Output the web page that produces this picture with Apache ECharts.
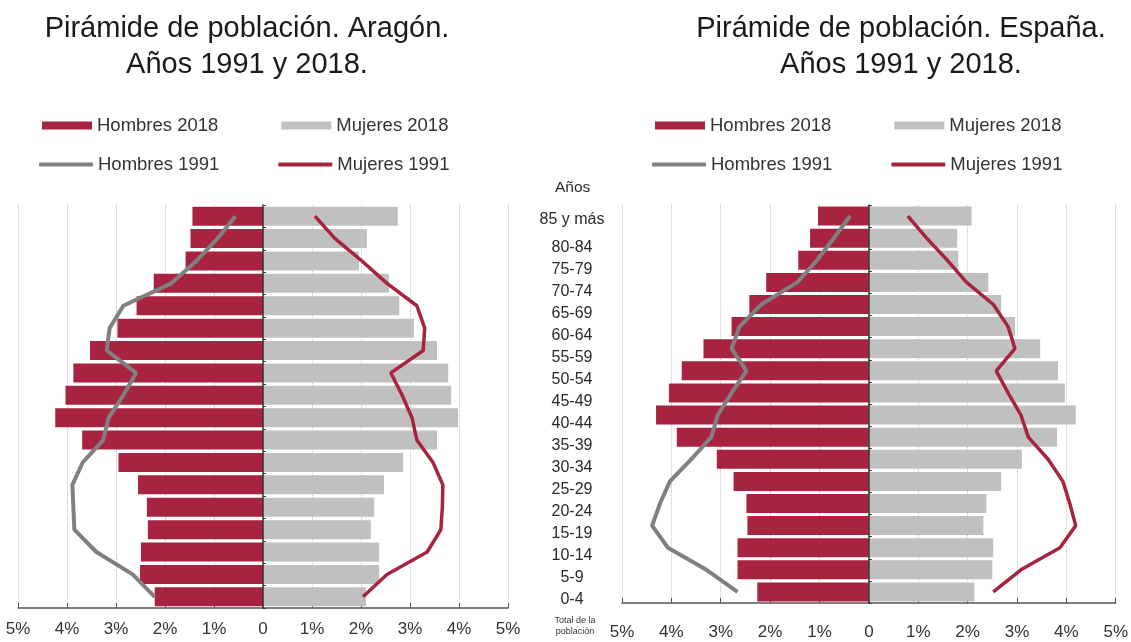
<!DOCTYPE html>
<html>
<head>
<meta charset="utf-8">
<script src="https://cdn.jsdelivr.net/npm/echarts@6/dist/echarts.min.js"></script>
<style>
  html, body { margin: 0; padding: 0; background: #fff; }
  #chart { width: 1131px; height: 642px; }
</style>
</head>
<body>
<div id="chart"></div>
<script>
// age groups, top to bottom
const ageGroups = ['85 y más', '80-84', '75-79', '70-74', '65-69', '60-64', '55-59', '50-54', '45-49',
  '40-44', '35-39', '30-34', '25-29', '20-24', '15-19', '10-14', '5-9', '0-4']

// % of total population
const aragonHombres2018 = [1.44, 1.48, 1.58, 2.23, 2.58, 2.97, 3.53, 3.87, 4.03, 4.24, 3.69, 2.95, 2.55, 2.37, 2.35, 2.49, 2.51, 2.21]
const aragonMujeres2018 = [2.75, 2.12, 1.96, 2.57, 2.78, 3.08, 3.55, 3.78, 3.84, 3.98, 3.55, 2.86, 2.47, 2.27, 2.20, 2.37, 2.37, 2.10]
const aragonHombres1991 = [0.56, 0.93, 1.36, 1.87, 2.85, 3.13, 3.19, 2.59, 2.85, 3.15, 3.26, 3.68, 3.89, 3.87, 3.85, 3.40, 2.66, 2.21]
const aragonMujeres1991 = [1.06, 1.47, 2.02, 2.53, 3.14, 3.30, 3.27, 2.61, 2.84, 3.04, 3.14, 3.47, 3.67, 3.66, 3.63, 3.35, 2.53, 2.04]

const espanaHombres2018 = [1.03, 1.19, 1.43, 2.08, 2.42, 2.78, 3.35, 3.79, 4.05, 4.31, 3.89, 3.08, 2.74, 2.48, 2.46, 2.66, 2.66, 2.26]
const espanaMujeres2018 = [2.08, 1.79, 1.81, 2.42, 2.68, 2.96, 3.47, 3.83, 3.97, 4.19, 3.81, 3.10, 2.68, 2.38, 2.32, 2.52, 2.50, 2.14]
const espanaHombres1991 = [0.38, 0.71, 1.05, 1.45, 2.18, 2.62, 2.78, 2.48, 2.78, 3.06, 3.19, 3.60, 4.03, 4.23, 4.39, 4.07, 3.29, 2.66]
const espanaMujeres1991 = [0.79, 1.17, 1.59, 1.98, 2.52, 2.82, 2.96, 2.58, 2.82, 3.08, 3.23, 3.63, 3.93, 4.07, 4.19, 3.87, 3.08, 2.52]

const RED = '#A7233F'
const GRAY_BAR = '#C0C0C0'
const GRAY_LINE = '#808080'
const FONT = 'Liberation Sans, Arial, sans-serif'

const neg = arr => arr.map(v => -v)

function valueAxis(gridIndex, margin) {
  return {
    type: 'value',
    gridIndex,
    min: -5,
    max: 5,
    interval: 1,
    axisLine: { show: true, onZero: false, lineStyle: { color: '#555', width: 1.5 } },
    axisTick: { show: true, inside: true, length: 5, lineStyle: { color: '#555' } },
    axisLabel: {
      fontSize: 17,
      color: '#333',
      fontFamily: FONT,
      margin,
      formatter: v => (v === 0 ? '0' : Math.abs(v) + '%'),
    },
    splitLine: { show: true, lineStyle: { type: 'dotted', color: '#c4c4c4' } },
  }
}

function ageAxis(gridIndex) {
  return {
    type: 'category',
    gridIndex,
    data: ageGroups,
    inverse: true,
    z: 3,
    axisLabel: { show: false },
    axisLine: { show: true, onZero: true, lineStyle: { color: '#333', width: 1.5 } },
    axisTick: { show: true, inside: true, length: 3, lineStyle: { color: '#333' } },
  }
}

function pyramid(idx, h2018, m2018, h1991, m1991) {
  return [
    { name: 'Hombres 2018', type: 'bar', xAxisIndex: idx, yAxisIndex: idx, data: neg(h2018),
      barWidth: 19, barGap: '-100%', itemStyle: { color: RED } },
    { name: 'Mujeres 2018', type: 'bar', xAxisIndex: idx, yAxisIndex: idx, data: m2018,
      barWidth: 19, barGap: '-100%', itemStyle: { color: GRAY_BAR } },
    { name: 'Hombres 1991', type: 'line', xAxisIndex: idx, yAxisIndex: idx, data: neg(h1991),
      symbol: 'none', z: 5, lineStyle: { color: GRAY_LINE, width: 4 }, itemStyle: { color: GRAY_LINE } },
    { name: 'Mujeres 1991', type: 'line', xAxisIndex: idx, yAxisIndex: idx, data: m1991,
      symbol: 'none', z: 5, lineStyle: { color: RED, width: 3.5 }, itemStyle: { color: RED } },
  ]
}

function legendRows(x) {
  const text = { fontSize: 18.5, color: '#333', fontFamily: FONT }
  return [
    { left: x + 3, top: 116, padding: 0, itemWidth: 50, itemHeight: 8, itemGap: 63, textStyle: text,
      data: [{ name: 'Hombres 2018', icon: 'rect' }, { name: 'Mujeres 2018', icon: 'rect' }] },
    { left: x, top: 155, padding: 0, itemWidth: 54, itemHeight: 4, itemGap: 59, textStyle: text,
      data: [{ name: 'Hombres 1991', icon: 'roundRect' }, { name: 'Mujeres 1991', icon: 'roundRect' }] },
  ]
}

const chart = echarts.init(document.getElementById('chart'))

chart.setOption({
  animation: false,
  title: [
    { text: 'Pirámide de población. Aragón.\nAños 1991 y 2018.', left: 242, top: 6, textAlign: 'center',
      textStyle: { fontSize: 29, fontWeight: 'normal', color: '#1a1a1a', lineHeight: 36, fontFamily: FONT } },
    { text: 'Pirámide de población. España.\nAños 1991 y 2018.', left: 896, top: 6, textAlign: 'center',
      textStyle: { fontSize: 29, fontWeight: 'normal', color: '#1a1a1a', lineHeight: 36, fontFamily: FONT } },
  ],
  legend: [...legendRows(39), ...legendRows(652)],
  grid: [
    { left: 18, top: 205, width: 490, height: 403 },
    { left: 622, top: 205, width: 495, height: 398 },
    { left: 600, top: 215, width: 10, height: 396 },
  ],
  xAxis: [valueAxis(0, 13), valueAxis(1, 21), { type: 'value', gridIndex: 2, show: false }],
  yAxis: [
    ageAxis(0),
    ageAxis(1),
    {
      type: 'category',
      gridIndex: 2,
      data: ageGroups,
      inverse: true,
      axisLine: { show: false },
      axisTick: { show: false },
      axisLabel: {
        align: 'center',
        margin: 28,
        fontSize: 16,
        color: '#2a2a2a',
        fontFamily: FONT,
        formatter: v => (v === '85 y más' ? '{top|' + v + '}' : v),
        rich: { top: { fontSize: 16, color: '#2a2a2a', fontFamily: FONT, padding: [0, 0, 12, 0] } },
      },
    },
  ],
  graphic: [
    { type: 'text', left: 555, top: 180, style: { text: 'Años', fontSize: 15.5, fill: '#2a2a2a', fontFamily: FONT } },
    { type: 'text', x: 575, y: 615, style: { text: 'Total de la\npoblación', fontSize: 9, lineHeight: 11,
      fill: '#333', fontFamily: FONT, align: 'center' } },
  ],
  series: [
    ...pyramid(0, aragonHombres2018, aragonMujeres2018, aragonHombres1991, aragonMujeres1991),
    ...pyramid(1, espanaHombres2018, espanaMujeres2018, espanaHombres1991, espanaMujeres1991),
  ],
})
</script>
</body>
</html>
